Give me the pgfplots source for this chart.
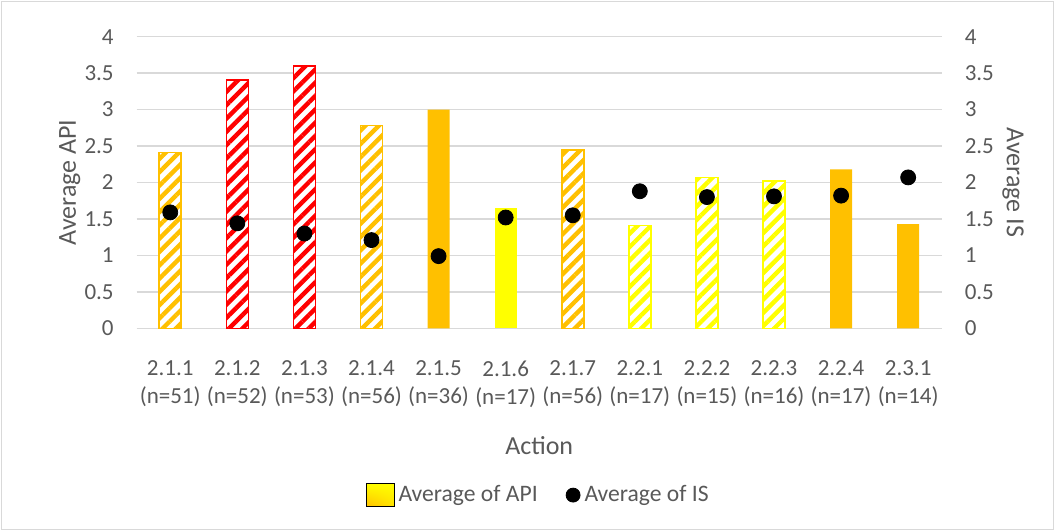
\documentclass[border=0pt]{standalone}
\usepackage{pgfplots}
\pgfplotsset{compat=1.18}
\usepackage{fontspec}
\setmainfont{Carlito}
\usetikzlibrary{patterns.meta,shadings}
\definecolor{xorange}{HTML}{FFC000}
\definecolor{xred}{HTML}{FF0000}
\definecolor{xyellow}{HTML}{FFFF00}
\definecolor{txt}{HTML}{595959}
\definecolor{grd}{HTML}{D9D9D9}
\begin{document}
\begin{tikzpicture}
\path[use as bounding box] (0,0) rectangle (527.5pt,265.5pt);
\draw[grd, line width=0.6pt] (0.6pt,0.6pt) rectangle (526.9pt,264.9pt);
\pgfplotsset{
  hatch/.style={fill=white, draw=#1, line width=0.8pt,
    postaction={pattern={Lines[angle=45,distance=4.7pt,line width=2.2pt]}, pattern color=#1}},
  common/.style={
    at={(68.35pt,101.35pt)}, anchor=south west,
    scale only axis, width=402.5pt, height=145.8pt,
    xmin=-0.5, xmax=11.5, ymin=0, ymax=4,
    ytick={0,0.5,...,4},
    axis line style={draw=none}, tick style={draw=none},
    /pgf/number format/assume math mode=true,
    ticklabel style={font=\fontsize{11.5}{14}\selectfont, text=txt},
    label style={font=\fontsize{13}{15}\selectfont, text=txt},
  }
}
\begin{axis}[common,
  ybar, bar width=11pt,
  ymajorgrids, major grid style={grd, line width=0.75pt},
  ytick pos=left, xtick pos=bottom,
  xtick={0,...,11},
  xticklabels={{2.1.1\\(n=51)},{2.1.2\\(n=52)},{2.1.3\\(n=53)},{2.1.4\\(n=56)},{2.1.5\\(n=36)},{2.1.6\\(n=17)},{2.1.7\\(n=56)},{2.2.1\\(n=17)},{2.2.2\\(n=15)},{2.2.3\\(n=16)},{2.2.4\\(n=17)},{2.3.1\\(n=14)}},
  xticklabel style={align=center, yshift=-8.5pt},
  yticklabel style={xshift=-8pt},
  xlabel={Action}, ylabel={Average API},
  xlabel style={at={(axis description cs:0.5,-0.4036)}, anchor=center},
  ylabel style={at={(axis description cs:-0.0832,0.5)}, anchor=center, rotate=0},
]
% orange hatched
\addplot[hatch=xorange, bar shift=0pt] coordinates {(0,2.41) (3,2.78) (6,2.45)};
% red hatched
\addplot[hatch=xred, bar shift=0pt] coordinates {(1,3.41) (2,3.60)};
% orange solid
\addplot[fill=xorange, draw=none, bar shift=0pt] coordinates {(4,3.00) (10,2.18) (11,1.43)};
% yellow solid
\addplot[fill=xyellow, draw=none, bar shift=0pt] coordinates {(5,1.65)};
% yellow hatched
\addplot[hatch=xyellow, bar shift=0pt] coordinates {(7,1.41) (8,2.07) (9,2.02)};
\end{axis}
\begin{axis}[common,
  axis x line=none, axis y line*=right,
  ytick pos=right,
  yticklabel style={xshift=8pt},
  ylabel={Average IS},
  ylabel style={at={(axis description cs:1.0886,0.5)}, anchor=center, rotate=180},
  legend columns=2,
  legend style={at={(axis description cs:0.5,-0.572)}, anchor=center, draw=none, fill=none,
    font=\fontsize{11.8}{14}\selectfont, text=txt,
    /tikz/every even column/.append style={column sep=12pt}},
]
\addlegendimage{legend image code/.code={\shade[upper left=xyellow, upper right=xyellow, lower left=xorange, lower right=xyellow!55!xorange] (0pt,-5.75pt) rectangle (14pt,5.75pt);}}
\addlegendentry{Average of API}
\addplot[only marks, mark=*, mark size=3.75pt, black,
  legend image code/.code={\fill[black] (3.5pt,0pt) circle (3.5pt);}]
  coordinates {(0,1.59) (1,1.44) (2,1.30) (3,1.21) (4,0.99) (5,1.52) (6,1.55) (7,1.88) (8,1.80) (9,1.81) (10,1.82) (11,2.07)};
\addlegendentry{Average of IS}
\end{axis}
\end{tikzpicture}
\end{document}
